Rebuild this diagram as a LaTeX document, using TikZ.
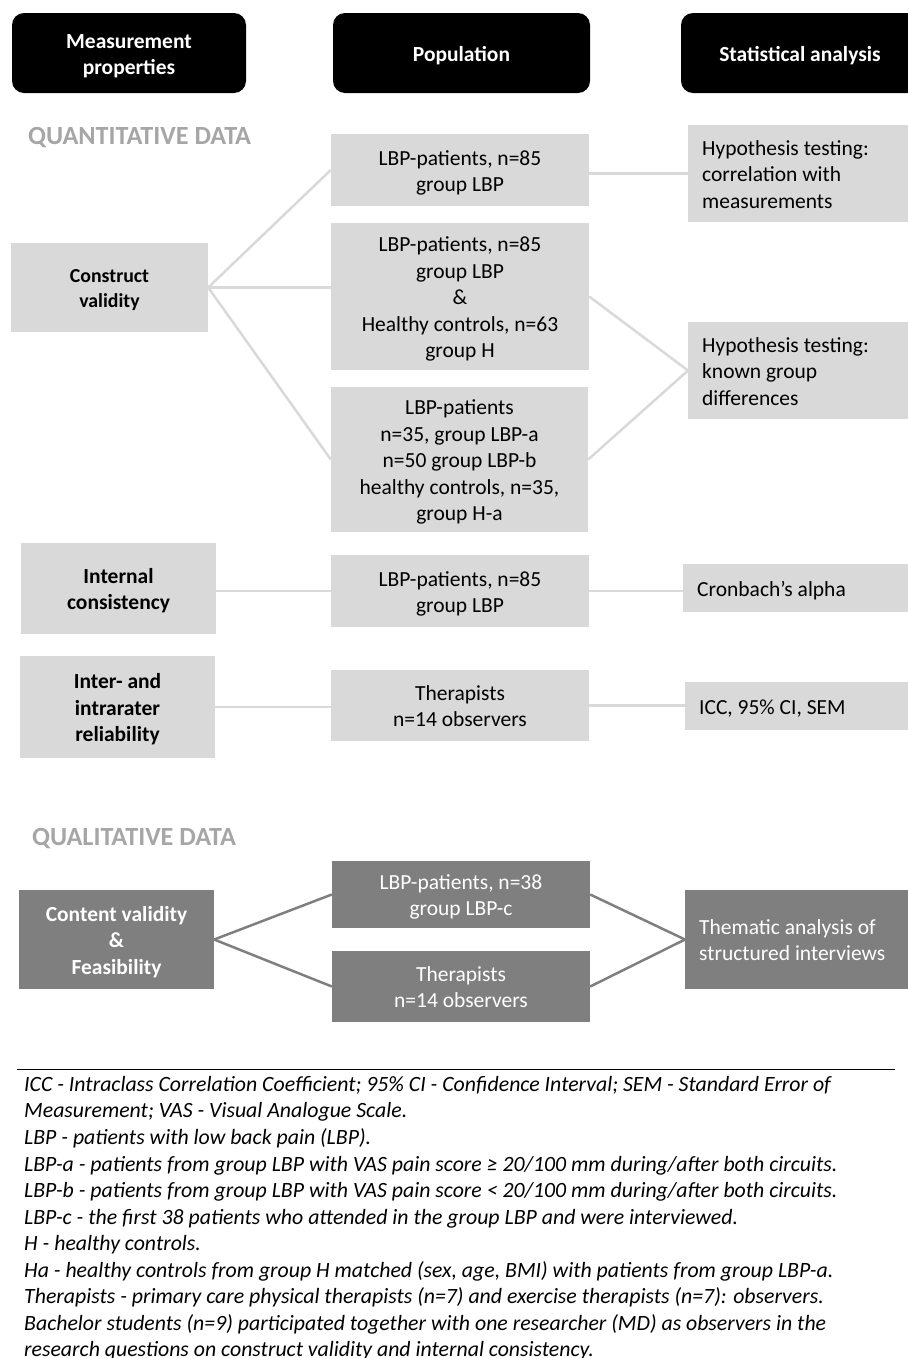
\documentclass[tikz,border=0pt]{standalone}
\usepackage{fontspec}
\setmainfont{Carlito}
\definecolor{boxlight}{HTML}{D9D9D9}
\definecolor{boxdark}{HTML}{7F7F7F}
\definecolor{titlegray}{HTML}{A6A6A6}
\newcommand\boxfont{\fontsize{21.5}{26.4}\selectfont}
\newcommand\smallboxfont{\fontsize{19.8}{24.6}\selectfont}
% line box as a word processor sets it: gap above the first line
\newcommand\boxtext[1]{\rule[-0.25em]{0pt}{1.27em}#1\rule[-0.25em]{0pt}{0.25em}}
\tikzset{
	headbox/.style={fill=black, rounded corners=12pt, text=white, font=\bfseries\boxfont, align=center, inner sep=0pt},
	propbox/.style={fill=boxlight, font=\bfseries\boxfont, align=center, inner sep=0pt},
	popbox/.style={fill=boxlight, font=\boxfont, align=center, inner sep=0pt},
	statbox/.style={fill=boxlight, font=\boxfont, align=left, anchor=west, text width=200pt, inner xsep=14pt, inner ysep=0pt,
		execute at begin node={\spaceskip=0pt\xspaceskip=0pt}},
	darkbox/.style={fill=boxdark, text=white},
	sectiontitle/.style={text=titlegray, font=\bfseries\fontsize{26.2}{31}\selectfont, inner sep=0pt, anchor=base west},
	lightlink/.style={draw=boxlight, line width=2.5pt},
	darklink/.style={draw=boxdark, line width=2.5pt},
	notes/.style={font=\itshape\fontsize{21.8}{26.55}\selectfont, align=left, inner sep=0pt, anchor=north west}
}

\begin{document}
\begin{tikzpicture}[x=1pt, y=-1pt]

	\useasboundingbox (0,0) rectangle (908,1358);
	\clip (0,0) rectangle (908,1358);

	% column heads
	\node[headbox, minimum width=234pt, minimum height=80pt] (hmeas) at (129,53) {\boxtext{Measurement\\properties}};
	\node[headbox, minimum width=257pt, minimum height=80pt] (hpop) at (461.5,53) {\boxtext{Population}};
	\node[headbox, minimum width=238pt, minimum height=80pt] (hstat) at (800,53) {\boxtext{Statistical analysis}};

	%%%%%%%%%%%%%%%% quantitative %%%%%%%%%%%%%%%%
	\node[sectiontitle] (quant) at (28,144) {QUANTITATIVE DATA};

	\node[propbox, font=\bfseries\smallboxfont, minimum width=197pt, minimum height=89pt] (construct) at (109.5,287.5) {\boxtext{Construct\\validity}};
	\node[popbox, minimum width=258pt, minimum height=72pt] (pop1) at (460,170) {\boxtext{LBP-patients, n=85\\group LBP}};
	\node[popbox, minimum width=258pt, minimum height=147pt] (pop2) at (460,296.5) {\boxtext{LBP-patients, n=85\\group LBP\\\&\\Healthy controls, n=63\\group H}};
	\node[popbox, minimum width=257pt, minimum height=145pt] (pop3) at (459.5,459.5) {\boxtext{LBP-patients\\n=35, group LBP-a\\n=50 group LBP-b\\healthy controls, n=35,\\group H-a}};
	\node[statbox, minimum height=97pt] (stat1) at (688,173.5) {\boxtext{Hypothesis testing:\\correlation with\\measurements}};
	\node[statbox, minimum height=97pt] (stat2) at (688,370.5) {\boxtext{Hypothesis testing:\\known group\\differences}};

	\node[propbox, minimum width=195pt, minimum height=91pt] (internal) at (118.5,588.5) {\boxtext{Internal\\consistency}};
	\node[popbox, minimum width=258pt, minimum height=72pt] (pop4) at (460,591) {\boxtext{LBP-patients, n=85\\group LBP}};
	\node[statbox, minimum height=48pt] (stat3) at (683,588) {\boxtext{Cronbach’s alpha}};

	\node[propbox, minimum width=195pt, minimum height=102pt] (inter) at (117.5,707) {\boxtext{Inter- and\\intrarater\\reliability}};
	\node[popbox, minimum width=258pt, minimum height=71pt] (pop5) at (460,705.5) {\boxtext{Therapists\\n=14 observers}};
	\node[statbox, minimum height=48pt] (stat4) at (685,706) {\boxtext{ICC, 95\% CI, SEM}};

	\draw[lightlink] (construct.east) -- (pop1.west);
	\draw[lightlink] (construct.east) -- (construct.east -| pop2.west);
	\draw[lightlink] (construct.east) -- (pop3.west);
	\draw[lightlink] (pop1.east |- stat1.west) -- (stat1.west);
	\draw[lightlink] (pop2.east) -- (stat2.west);
	\draw[lightlink] (pop3.east) -- (stat2.west);
	\draw[lightlink] (internal.east |- pop4.west) -- (pop4.west);
	\draw[lightlink] (pop4.east) -- (pop4.east -| stat3.west);
	\draw[lightlink] (inter.east) -- (inter.east -| pop5.west);
	\draw[lightlink] (pop5.east) -- (pop5.east -| stat4.west);

	%%%%%%%%%%%%%%%% qualitative %%%%%%%%%%%%%%%%
	\node[sectiontitle] (qual) at (32,845) {QUALITATIVE DATA};

	\node[propbox, darkbox, minimum width=195pt, minimum height=99pt] (content) at (116.5,939.5) {\boxtext{Content validity\\\&\\Feasibility}};
	\node[popbox, darkbox, minimum width=258pt, minimum height=67pt] (qpop1) at (461,894.5) {\boxtext{LBP-patients, n=38\\group LBP-c}};
	\node[popbox, darkbox, minimum width=258pt, minimum height=71pt] (qpop2) at (461,986.5) {\boxtext{Therapists\\n=14 observers}};
	\node[statbox, darkbox, minimum height=99pt] (qstat) at (685,939.5) {\boxtext{Thematic analysis of\\structured interviews}};

	\draw[darklink] (content.east) -- (qpop1.west);
	\draw[darklink] (content.east) -- (qpop2.west);
	\draw[darklink] (qpop1.east) -- (qstat.west);
	\draw[darklink] (qpop2.east) -- (qstat.west);

	%%%%%%%%%%%%%%%% legend %%%%%%%%%%%%%%%%
	\draw[line width=1pt] (17,1069) -- (895,1069);
	\node[notes] (legend) at (24,1076) {ICC - Intraclass Correlation Coefficient; 95\% CI - Confidence Interval; SEM - Standard Error of\\
		Measurement; VAS - Visual Analogue Scale.\\
		LBP - patients with low back pain (LBP).\\
		LBP-a - patients from group LBP with VAS pain score ≥ 20/100 mm during/after both circuits.\\
		LBP-b - patients from group LBP with VAS pain score < 20/100 mm during/after both circuits.\\
		LBP-c - the first 38 patients who attended in the group LBP and were interviewed.\\
		H - healthy controls.\\
		Ha - healthy controls from group H matched (sex, age, BMI) with patients from group LBP-a.\\
		Therapists - primary care physical therapists (n=7) and exercise therapists (n=7): observers.\\
		Bachelor students (n=9) participated together with one researcher (MD) as observers in the\\
		research questions on construct validity and internal consistency.};

\end{tikzpicture}
\end{document}
